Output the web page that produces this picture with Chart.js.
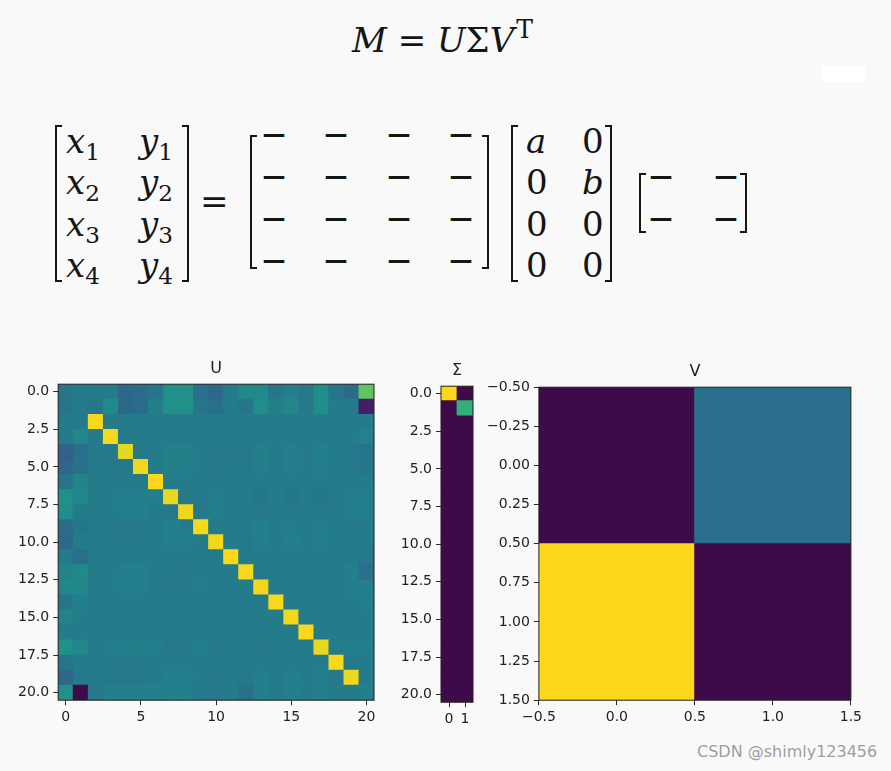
<!DOCTYPE html>
<html>
<head>
<meta charset="utf-8">
<script src="https://cdn.jsdelivr.net/npm/chart.js@4.4.1/dist/chart.umd.min.js"></script>
<style>
html,body{margin:0;padding:0;}
body{width:891px;height:771px;position:relative;overflow:hidden;background:#f9f9f9;}
canvas{position:absolute;left:0;top:0;}
.m{position:absolute;font-family:"DejaVu Serif",serif;font-style:italic;font-size:34px;line-height:1;white-space:nowrap;color:#151515;}
.up{font-style:normal;}
.sub{font-style:normal;font-size:0.68em;position:relative;top:0.3em;}
.sup{font-style:normal;font-size:0.74em;position:relative;top:-0.55em;margin-left:2px;}
.br{position:absolute;border:2px solid #151515;width:7px;box-sizing:border-box;}
.brl{border-right:none;}
.brr{border-left:none;}
.dash{position:absolute;font-family:"DejaVu Sans",sans-serif;font-weight:bold;font-size:23px;line-height:1;color:#151515;transform:translate(-50%,-50%);}
.wm{position:absolute;left:697px;top:742px;font-family:"DejaVu Sans",sans-serif;font-size:16px;color:#9d9d9d;text-shadow:0 0 1px #fff;white-space:nowrap;}
.blank{position:absolute;left:822px;top:65px;width:43px;height:17px;background:#fff;}
</style>
</head>
<body>
<div class="blank"></div>

<!-- M = U Σ V^T -->
<div class="m" style="left:352px;top:23px;">M <span class="up">=</span> U<span class="up">Σ</span>V<span class="sup">T</span></div>

<!-- left matrix -->
<div class="br brl" style="left:55px;top:125px;height:157px;"></div>
<div class="br brr" style="left:182px;top:125px;height:157px;"></div>
<div class="m" style="left:66px;top:124px;">x<span class="sub">1</span></div>
<div class="m" style="left:139px;top:124px;">y<span class="sub">1</span></div>
<div class="m" style="left:66px;top:165px;">x<span class="sub">2</span></div>
<div class="m" style="left:139px;top:165px;">y<span class="sub">2</span></div>
<div class="m" style="left:66px;top:207px;">x<span class="sub">3</span></div>
<div class="m" style="left:139px;top:207px;">y<span class="sub">3</span></div>
<div class="m" style="left:66px;top:248px;">x<span class="sub">4</span></div>
<div class="m" style="left:139px;top:248px;">y<span class="sub">4</span></div>

<div class="m up" style="left:200px;top:184px;">=</div>

<!-- U placeholder matrix -->
<div class="br brl" style="left:250px;top:135px;height:134px;"></div>
<div class="br brr" style="left:482px;top:135px;height:134px;"></div>
<div class="dash" style="left:274px;top:134px;">—</div>
<div class="dash" style="left:336px;top:134px;">—</div>
<div class="dash" style="left:399px;top:134px;">—</div>
<div class="dash" style="left:461px;top:134px;">—</div>
<div class="dash" style="left:274px;top:176px;">—</div>
<div class="dash" style="left:336px;top:176px;">—</div>
<div class="dash" style="left:399px;top:176px;">—</div>
<div class="dash" style="left:461px;top:176px;">—</div>
<div class="dash" style="left:274px;top:218px;">—</div>
<div class="dash" style="left:336px;top:218px;">—</div>
<div class="dash" style="left:399px;top:218px;">—</div>
<div class="dash" style="left:461px;top:218px;">—</div>
<div class="dash" style="left:274px;top:260px;">—</div>
<div class="dash" style="left:336px;top:260px;">—</div>
<div class="dash" style="left:399px;top:260px;">—</div>
<div class="dash" style="left:461px;top:260px;">—</div>

<!-- Sigma matrix -->
<div class="br brl" style="left:511px;top:125px;height:157px;"></div>
<div class="br brr" style="left:605px;top:125px;height:157px;"></div>
<div class="m" style="left:526px;top:124px;">a</div>
<div class="m up" style="left:582px;top:124px;">0</div>
<div class="m up" style="left:526px;top:165px;">0</div>
<div class="m" style="left:582px;top:165px;">b</div>
<div class="m up" style="left:526px;top:207px;">0</div>
<div class="m up" style="left:582px;top:207px;">0</div>
<div class="m up" style="left:526px;top:248px;">0</div>
<div class="m up" style="left:582px;top:248px;">0</div>

<!-- V^T placeholder -->
<div class="br brl" style="left:639px;top:173px;height:60px;"></div>
<div class="br brr" style="left:740px;top:173px;height:60px;"></div>
<div class="dash" style="left:661px;top:176px;">—</div>
<div class="dash" style="left:726px;top:176px;">—</div>
<div class="dash" style="left:661px;top:218px;">—</div>
<div class="dash" style="left:726px;top:218px;">—</div>

<canvas id="cU"></canvas>
<canvas id="cS"></canvas>
<canvas id="cV"></canvas>

<div class="wm">CSDN @shimly123456</div>

<script>
// ---------------- DATA ----------------
const TITLES = ['U', 'Σ', 'V'];

const U_VALUES = [
  [-0.05, 0.00, -0.02, -0.01, -0.15, -0.12, -0.05, 0.15, 0.15, -0.10, -0.15, 0.00, 0.10, 0.10, -0.05, 0.02, -0.03, 0.12, -0.05, -0.12, 0.55],
  [-0.05, 0.00, -0.05, 0.10, -0.15, -0.12, 0.03, 0.15, 0.15, -0.05, -0.10, 0.00, -0.05, 0.12, 0.03, 0.08, -0.03, 0.12, 0.00, -0.02, -0.62],
  [0.00, -0.03, 0.97, 0.00, 0.00, 0.00, 0.00, 0.00, 0.00, 0.00, 0.00, 0.00, 0.00, 0.00, 0.00, 0.00, 0.00, 0.00, 0.00, 0.00, 0.00],
  [0.00, 0.08, 0.00, 0.96, 0.00, 0.00, 0.00, 0.00, 0.00, 0.00, 0.00, 0.00, 0.00, 0.00, 0.00, 0.00, 0.00, 0.00, 0.00, 0.00, 0.04],
  [-0.20, -0.10, -0.03, -0.02, 0.90, -0.02, 0.00, 0.03, 0.03, 0.00, -0.02, -0.02, -0.03, 0.03, 0.00, 0.02, -0.01, 0.03, 0.00, -0.03, -0.05],
  [-0.17, -0.08, -0.03, -0.02, -0.03, 0.95, 0.00, 0.03, 0.03, -0.01, -0.02, -0.02, -0.03, 0.03, 0.00, 0.02, -0.01, 0.03, 0.00, -0.03, -0.05],
  [-0.05, 0.05, 0.00, 0.00, 0.00, 0.00, 0.98, 0.00, 0.00, 0.00, 0.00, 0.00, 0.00, 0.00, 0.00, 0.00, 0.00, 0.00, 0.00, 0.00, 0.00],
  [0.15, 0.08, 0.00, 0.00, 0.03, 0.03, 0.02, 0.92, -0.03, -0.03, 0.02, 0.00, 0.00, -0.04, 0.00, -0.04, 0.00, -0.04, 0.00, 0.02, 0.03],
  [0.12, 0.00, 0.00, 0.00, 0.02, 0.02, 0.00, -0.03, 0.94, -0.02, 0.02, 0.00, 0.00, -0.03, 0.00, -0.03, 0.00, -0.03, 0.00, 0.02, 0.03],
  [-0.12, -0.05, 0.00, -0.02, -0.02, -0.02, 0.00, 0.02, 0.00, 0.97, 0.00, 0.00, -0.01, 0.02, 0.00, 0.01, 0.00, 0.02, 0.00, -0.02, 0.00],
  [-0.15, 0.00, 0.00, -0.02, -0.03, -0.03, 0.00, 0.02, 0.02, 0.00, 0.95, 0.00, -0.02, 0.02, 0.00, 0.02, 0.00, 0.02, 0.00, -0.03, 0.00],
  [0.00, -0.10, 0.00, 0.00, 0.00, 0.00, 0.00, 0.00, 0.00, 0.00, 0.00, 0.98, 0.00, 0.00, 0.00, 0.00, 0.00, 0.00, 0.00, 0.00, -0.02],
  [0.05, 0.10, 0.00, 0.00, 0.02, 0.02, 0.00, -0.02, -0.02, 0.00, 0.00, 0.00, 0.96, -0.02, 0.00, -0.01, 0.00, -0.02, 0.00, 0.02, -0.10],
  [0.08, 0.08, 0.00, 0.00, 0.02, 0.02, 0.00, -0.02, -0.02, 0.01, 0.00, 0.00, 0.00, 0.95, 0.00, -0.01, 0.00, -0.02, 0.00, 0.02, 0.02],
  [-0.05, 0.02, 0.00, 0.00, 0.00, 0.00, 0.00, 0.00, 0.00, 0.00, 0.00, 0.00, 0.00, 0.00, 0.97, 0.00, 0.00, 0.00, 0.00, 0.00, 0.02],
  [0.05, 0.00, 0.00, 0.00, 0.00, 0.00, 0.00, 0.00, 0.00, 0.00, 0.00, 0.00, 0.00, 0.00, 0.00, 0.95, 0.00, 0.00, 0.00, 0.00, 0.00],
  [0.00, 0.00, 0.00, 0.00, 0.00, 0.00, 0.00, 0.00, 0.00, 0.00, 0.00, 0.00, 0.00, 0.00, 0.00, 0.00, 0.98, 0.00, 0.00, 0.00, 0.00],
  [0.15, 0.08, 0.00, 0.01, 0.03, 0.03, 0.01, -0.03, -0.03, 0.02, -0.03, 0.00, 0.00, -0.03, 0.00, -0.02, 0.00, 0.93, 0.01, 0.02, 0.02],
  [-0.05, 0.00, 0.00, 0.00, -0.02, -0.02, 0.00, 0.00, 0.00, 0.00, 0.00, 0.00, 0.00, 0.00, 0.00, 0.00, 0.00, 0.00, 0.97, -0.02, 0.00],
  [-0.15, -0.03, 0.00, -0.02, -0.03, -0.03, 0.00, 0.02, 0.02, -0.01, -0.02, 0.00, -0.02, 0.02, 0.00, 0.02, 0.00, 0.02, -0.02, 0.94, 0.00],
  [0.15, -0.75, -0.03, 0.03, 0.02, 0.02, 0.02, 0.03, 0.03, -0.02, -0.02, 0.00, -0.08, 0.02, 0.00, 0.02, 0.00, 0.02, 0.00, 0.00, 0.02]
];

const SIGMA_VALUES = [
  [1.00, 0.00], [0.00, 0.64], [0.00, 0.00], [0.00, 0.00], [0.00, 0.00], [0.00, 0.00], [0.00, 0.00],
  [0.00, 0.00], [0.00, 0.00], [0.00, 0.00], [0.00, 0.00], [0.00, 0.00], [0.00, 0.00], [0.00, 0.00],
  [0.00, 0.00], [0.00, 0.00], [0.00, 0.00], [0.00, 0.00], [0.00, 0.00], [0.00, 0.00], [0.00, 0.00]
];

const V_VALUES = [
  [-0.60, -0.07],
  [0.80, -0.60]
];

const U_X_TICKS = [0, 5, 10, 15, 20];
const U_Y_TICKS = [0, 2.5, 5, 7.5, 10, 12.5, 15, 17.5, 20];
const SIGMA_X_TICKS = [0, 1];
const SIGMA_Y_TICKS = [0, 2.5, 5, 7.5, 10, 12.5, 15, 17.5, 20];
const V_X_TICKS = [-0.5, 0, 0.5, 1, 1.5];
const V_Y_TICKS = [-0.5, -0.25, 0, 0.25, 0.5, 0.75, 1, 1.25, 1.5];

// ---------------- STYLE ----------------
const CMAP = ['#3f0a49','#472374','#404386','#335d8b','#27748b','#1f8c8a','#22a483','#44bc70','#7acb52','#c2d52a','#fdd81a'];
const TICK_FONT = {family: 'DejaVu Sans', size: 14};
const TICK_COLOR = '#222';
const TICK_LEN = 5, TICK_PAD = 4;

function hexRgb(h) { return [parseInt(h.slice(1,3),16), parseInt(h.slice(3,5),16), parseInt(h.slice(5,7),16)]; }
const CMAP_RGB = CMAP.map(hexRgb);
function cmap(t) {
  t = Math.max(0, Math.min(1, t));
  const n = CMAP_RGB.length - 1;
  const i = Math.min(n - 1, Math.floor(t * n));
  const f = t * n - i;
  const a = CMAP_RGB[i], b = CMAP_RGB[i + 1];
  return 'rgb(' + a.map((v, k) => Math.round(v + (b[k] - v) * f)).join(',') + ')';
}
const minus = s => s.replace('-', '\u2212');

const framePlugin = {
  id: 'frame',
  afterDatasetsDraw(chart) {
    const {ctx, chartArea: a} = chart;
    ctx.save();
    ctx.strokeStyle = '#1e1e1e';
    ctx.lineWidth = 1;
    ctx.strokeRect(a.left, a.top, a.right - a.left, a.bottom - a.top);
    ctx.restore();
  }
};

function cellRadius(chart) {
  const x = chart.scales.x, y = chart.scales.y;
  const cw = Math.abs(x.getPixelForValue(1) - x.getPixelForValue(0));
  const ch = Math.abs(y.getPixelForValue(1) - y.getPixelForValue(0));
  return (Math.max(cw, ch) + 0.8) / Math.SQRT2;
}

// measure widest tick label so narrow charts do not squeeze the y axis
function labelWidth(labels) {
  const c = document.createElement('canvas').getContext('2d');
  c.font = TICK_FONT.size + 'px "' + TICK_FONT.family + '"';
  return Math.max(...labels.map(l => c.measureText(l).width));
}

function axis(min, max, ticks, fmt, reverse, vertical) {
  const cfg = {
    type: 'linear', min, max, reverse: !!reverse,
    afterBuildTicks: s => { s.ticks = ticks.map(v => ({value: v})); },
    ticks: {callback: fmt, autoSkip: false, maxRotation: 0, font: TICK_FONT, color: TICK_COLOR, padding: TICK_PAD},
    grid: {drawOnChartArea: false, drawTicks: true, tickLength: TICK_LEN, tickColor: '#2a2a2a', tickWidth: 1},
    border: {display: false}
  };
  if (vertical) {
    const w = Math.ceil(labelWidth(ticks.map(fmt))) + TICK_LEN + TICK_PAD + 1;
    cfg.afterFit = s => { s.width = Math.max(s.width, w); };
  }
  return cfg;
}

function heatConfig(o) {
  return () => {
    const pts = [];
    let vmin = Infinity, vmax = -Infinity;
    o.values.forEach((row, r) => row.forEach((v, c) => {
      pts.push({x: c, y: r, v});
      vmin = Math.min(vmin, v); vmax = Math.max(vmax, v);
    }));
    return {
      type: 'scatter',
      data: {datasets: [{
        data: pts,
        pointStyle: 'rect',
        pointRadius: ctx => cellRadius(ctx.chart),
        pointHoverRadius: ctx => cellRadius(ctx.chart),
        pointBorderWidth: 0,
        backgroundColor: ctx => cmap((ctx.raw.v - vmin) / (vmax - vmin)),
        borderColor: 'rgba(0,0,0,0)'
      }]},
      options: {
        responsive: false, animation: false, events: [],
        layout: {padding: {left: 6, right: 14, top: 4, bottom: 6}},
        plugins: {
          legend: {display: false}, tooltip: {enabled: false},
          title: {display: true, text: o.title, fullSize: false, color: '#222',
                  font: {family: 'DejaVu Sans', size: 16, weight: 'normal'}, padding: {top: 0, bottom: 6}}
        },
        scales: {
          x: axis(o.xMin, o.xMax, o.xTicks, o.xFmt, false, false),
          y: axis(o.yMin, o.yMax, o.yTicks, o.yFmt, true, true)
        }
      },
      plugins: [framePlugin]
    };
  };
}

function place(id, cfgFn, t) {
  const canvas = document.getElementById(id);
  canvas.width = t.w + 200; canvas.height = t.h + 120;
  let chart = new Chart(canvas, cfgFn());
  let a = chart.chartArea;
  const extraW = canvas.width - (a.right - a.left);
  const extraH = canvas.height - (a.bottom - a.top);
  chart.destroy();
  canvas.width = Math.round(t.w + extraW); canvas.height = Math.round(t.h + extraH);
  canvas.style.width = canvas.width + 'px'; canvas.style.height = canvas.height + 'px';
  chart = new Chart(canvas, cfgFn());
  a = chart.chartArea;
  canvas.style.left = Math.round(t.x - a.left) + 'px';
  canvas.style.top = Math.round(t.y - a.top) + 'px';
  return chart;
}

const f1 = v => v.toFixed(1);
const fInt = v => String(Math.round(v));

place('cU', heatConfig({values: U_VALUES, title: TITLES[0], xMin: -0.5, xMax: 20.5, yMin: -0.5, yMax: 20.5,
  xTicks: U_X_TICKS, yTicks: U_Y_TICKS, xFmt: fInt, yFmt: f1}), {x: 58, y: 384, w: 316, h: 316});
place('cS', heatConfig({values: SIGMA_VALUES, title: TITLES[1], xMin: -0.5, xMax: 1.5, yMin: -0.5, yMax: 20.5,
  xTicks: SIGMA_X_TICKS, yTicks: SIGMA_Y_TICKS, xFmt: fInt, yFmt: f1}), {x: 441, y: 386, w: 30, h: 316});
place('cV', heatConfig({values: V_VALUES, title: TITLES[2], xMin: -0.5, xMax: 1.5, yMin: -0.5, yMax: 1.5,
  xTicks: V_X_TICKS, yTicks: V_Y_TICKS, xFmt: v => minus(v.toFixed(1)), yFmt: v => minus(v.toFixed(2))}), {x: 539, y: 387, w: 312, h: 313});
</script>
</body>
</html>
